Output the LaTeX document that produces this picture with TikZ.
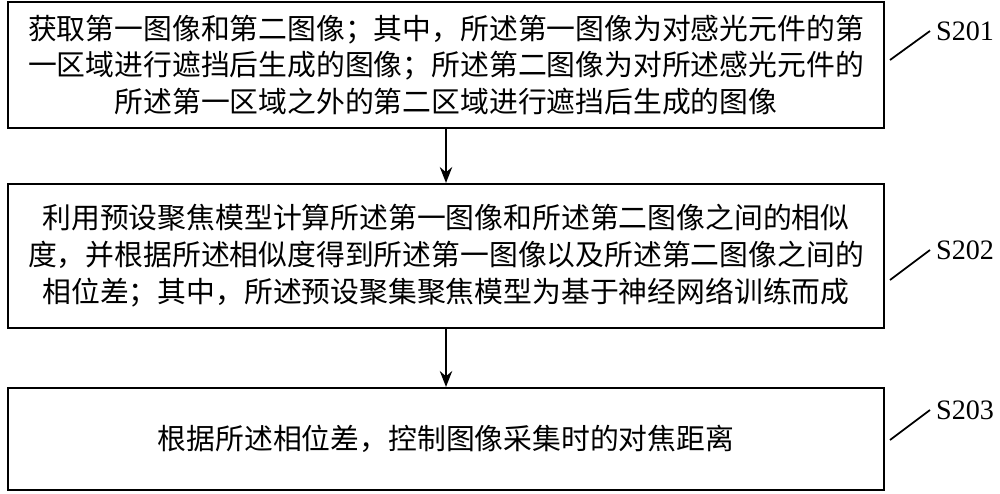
\documentclass[tikz,border=0pt]{standalone}
\usepackage{fontspec}
\setmainfont{Liberation Serif}
\newfontfamily\cjk{Noto Sans CJK SC}
\usetikzlibrary{positioning,arrows.meta}
\tikzset{
  stepbox/.style={draw,line width=1.2pt,minimum width=17.52cm,align=center,
    font=\cjk\fontsize{16.4}{21}\selectfont},
  flow/.style={-{Stealth[length=9pt,width=7pt]},line width=1.2pt},
  tag/.style={font=\fontsize{16}{18}\selectfont,anchor=west}
}
\begin{document}
\begin{tikzpicture}
  \useasboundingbox (0,0) rectangle (20,-9.88);
  \node[stepbox,minimum height=2.52cm] (sA) at (8.92,-1.3)
    {获取第一图像和第二图像；其中，所述第一图像为对感光元件的第\\
     一区域进行遮挡后生成的图像；所述第二图像为对所述感光元件的\\
     所述第一区域之外的第二区域进行遮挡后生成的图像};
  \node[stepbox,minimum height=2.88cm] (sB) at (8.92,-5.12)
    {利用预设聚焦模型计算所述第一图像和所述第二图像之间的相似\\
     度，并根据所述相似度得到所述第一图像以及所述第二图像之间的\\
     相位差；其中，所述预设聚集聚焦模型为基于神经网络训练而成};
  \node[stepbox,minimum height=2.04cm] (sC) at (8.92,-8.78)
    {根据所述相位差，控制图像采集时的对焦距离};
  \draw[flow] (sA) -- (sB);
  \draw[flow] (sB) -- (sC);
  % labels
  \node[tag] (tA) at (18.6,-0.62) {S201};
  \node[tag] (tB) at (18.6,-5.0) {S202};
  \node[tag] (tC) at (18.6,-8.2) {S203};
  \draw[line width=1pt] (17.8,-1.2) -- (tA.west);
  \draw[line width=1pt] (17.8,-5.6) -- (tB.west);
  \draw[line width=1pt] (17.8,-8.8) -- (tC.west);
\end{tikzpicture}
\end{document}
